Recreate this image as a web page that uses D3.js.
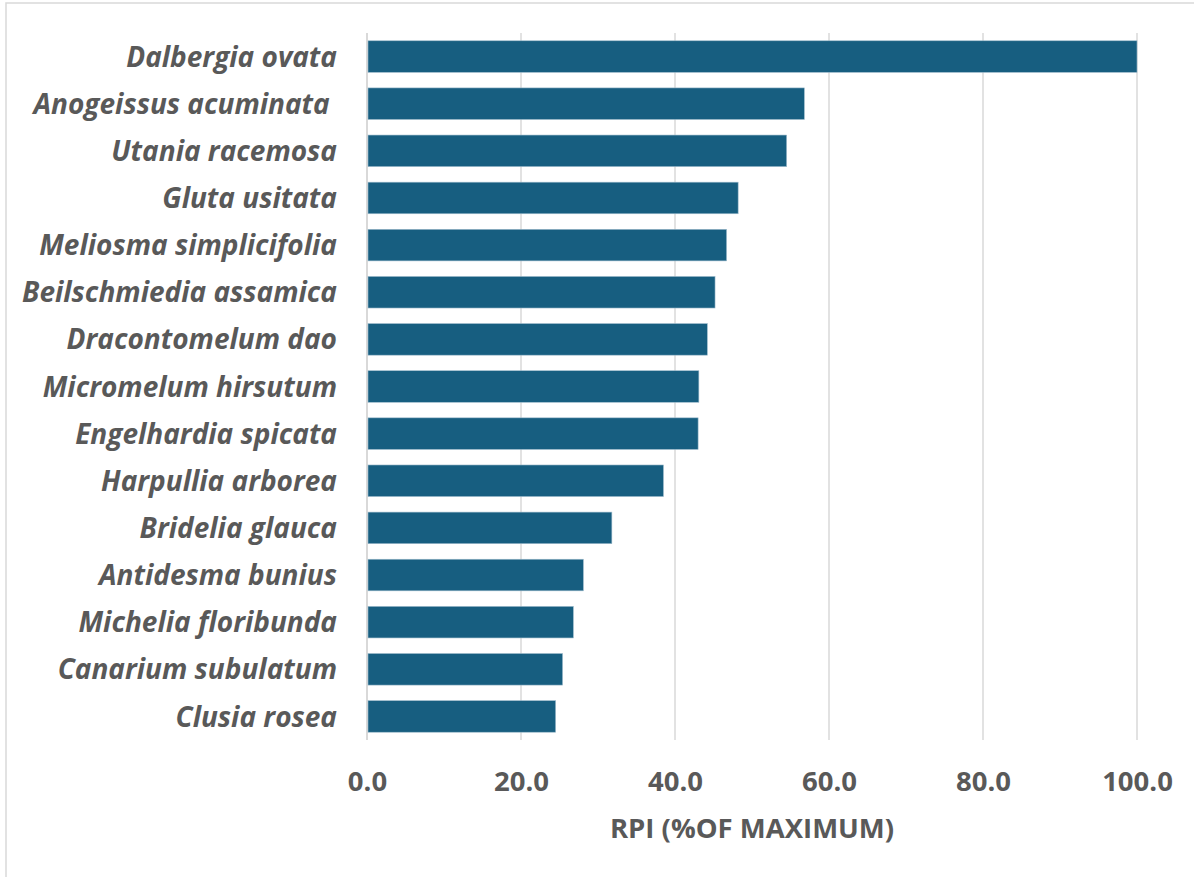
<!DOCTYPE html>
<html>
<head>
<meta charset="utf-8">
<script src="https://cdn.jsdelivr.net/npm/d3@7"></script>
<style>
  html, body { margin: 0; padding: 0; background: #fff; }
  svg { display: block; }
  text { white-space: pre; }
</style>
</head>
<body>
<svg id="chart" width="1194" height="877"></svg>
<script>
const categories = [
  "Dalbergia ovata", "Anogeissus acuminata ", "Utania racemosa", "Gluta usitata",
  "Meliosma simplicifolia", "Beilschmiedia assamica", "Dracontomelum dao",
  "Micromelum hirsutum", "Engelhardia spicata", "Harpullia arborea",
  "Bridelia glauca", "Antidesma bunius", "Michelia floribunda",
  "Canarium subulatum", "Clusia rosea"
];
const values = [100.0, 56.8, 54.5, 48.2, 46.7, 45.2, 44.2, 43.1, 43.0, 38.5, 31.8, 28.1, 26.8, 25.4, 24.5];
const xTicks = [0, 20, 40, 60, 80, 100];
const xTitle = "RPI (%OF MAXIMUM)";

const svg = d3.select("#chart");
const W = 1194, H = 877;
const m = { left: 367, right: 1137, top: 33, bottom: 740 };
const font = "'Open Sans', 'Noto Sans', sans-serif";
const grey = "#595959";

// outer border (only top/left visible in frame)
svg.append("rect").attr("x", 6).attr("y", 3).attr("width", W + 20).attr("height", H + 20)
  .attr("fill", "#fff").attr("stroke", "#d9d9d9").attr("stroke-width", 1.5);

const x = d3.scaleLinear().domain([0, 100]).range([m.left, m.right]);
const y = d3.scaleBand().domain(categories).range([m.top, m.bottom]).paddingInner(0.33).paddingOuter(0.165);

// gridlines
svg.append("g").selectAll("line").data(xTicks).join("line")
  .attr("x1", d => x(d)).attr("x2", d => x(d))
  .attr("y1", m.top).attr("y2", m.bottom)
  .attr("stroke", "#d9d9d9").attr("stroke-width", d => d === 0 ? 2 : 1.5);

// bars
svg.append("g").selectAll("rect").data(values).join("rect")
  .attr("x", x(0) + 1)
  .attr("y", (d, i) => y(categories[i]))
  .attr("width", d => x(d) - x(0) - 1)
  .attr("height", y.bandwidth())
  .attr("fill", "#175e80")
  .attr("stroke", "#9fbccc").attr("stroke-width", 0.6);

// x axis tick labels
const xAxis = d3.axisBottom(x).tickValues(xTicks).tickFormat(d3.format(".1f")).tickSize(0).tickPadding(0);
const gx = svg.append("g").attr("transform", `translate(0, 791)`).call(xAxis);
gx.select(".domain").remove();
gx.selectAll("text").attr("fill", grey).attr("font-family", font)
  .attr("font-size", 27.5).attr("font-weight", "bold").attr("dy", 0).attr("y", 0);

// y axis labels
const yAxis = d3.axisLeft(y).tickSize(0).tickPadding(30);
const gy = svg.append("g").attr("transform", `translate(${m.left},0)`).call(yAxis);
gy.select(".domain").remove();
gy.selectAll("text").attr("fill", grey).attr("font-family", font)
  .attr("font-size", 28).attr("font-weight", "bold").attr("font-style", "italic")
  .attr("dy", "0.36em");

// axis title
svg.append("text").attr("x", (m.left + m.right) / 2).attr("y", 838)
  .attr("text-anchor", "middle").attr("fill", grey).attr("font-family", font)
  .attr("font-size", 27.5).attr("font-weight", "bold").text(xTitle);
</script>
</body>
</html>
